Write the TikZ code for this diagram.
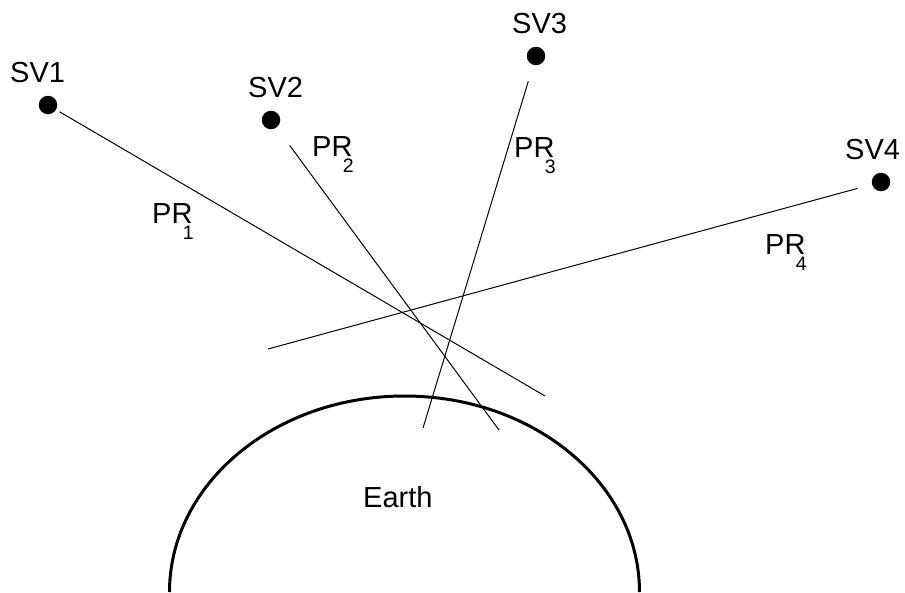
\documentclass[tikz,border=0pt]{standalone}
\usepackage{fontspec}
\setmainfont{Liberation Sans}
\usepackage{tikz}

\newcommand{\prlabel}[1]{PR\kern-9.5pt\raisebox{-16.5pt}{\fontsize{19.5}{19.5}\selectfont #1}}

\begin{document}
\begin{tikzpicture}[x=1pt,y=-1pt,
    sat/.style={circle,fill=black,inner sep=0pt,minimum size=18.5pt},
    lab/.style={font=\fontsize{29}{29}\selectfont,inner sep=0pt,anchor=base west},
    prline/.style={line width=1pt}]
  \useasboundingbox (0,0) rectangle (905,592);
  % --- satellites
  \node[sat] (sv1) at (48,105) {};
  \node[sat] (sv2) at (271,120) {};
  \node[sat] (sv3) at (536,56) {};
  \node[sat] (sv4) at (881,182) {};
  \node[lab] (sv1lab) at (10,82) {SV1};
  \node[lab] (sv2lab) at (248,97) {SV2};
  \node[lab] (sv3lab) at (512,33) {SV3};
  \node[lab] (sv4lab) at (845,159) {SV4};
  % --- pseudoranges
  \coordinate (pr1end) at (545,396);
  \coordinate (pr2end) at (499,430);
  \coordinate (pr3end) at (423,428);
  \coordinate (pr4end) at (268,349);
  \draw[prline,shorten <=4pt] (sv1) -- (pr1end);
  \draw[prline,shorten <=22pt] (sv2) -- (pr2end);
  \draw[prline,shorten <=17pt] (sv3) -- (pr3end);
  \draw[prline,shorten <=15pt] (sv4) -- (pr4end);
  \node[lab] (pr1lab) at (152,223) {\prlabel{1}};
  \node[lab] (pr2lab) at (312,156) {\prlabel{2}};
  \node[lab] (pr3lab) at (514,157) {\prlabel{3}};
  \node[lab] (pr4lab) at (765,254) {\prlabel{4}};
  % --- earth
  \draw[line width=3pt] (169.5,592) arc[start angle=180,end angle=0,x radius=235pt,y radius=196pt];
  \node[lab] (earth) at (363,507) {Earth};
\end{tikzpicture}
\end{document}
